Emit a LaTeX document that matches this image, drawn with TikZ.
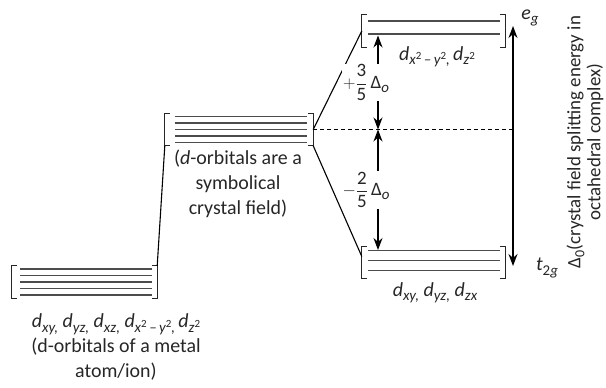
\documentclass[tikz,border=0pt]{standalone}
\usepackage{amsmath}
\usepackage{fontspec}
\setmainfont{Carlito}
\usetikzlibrary{positioning,arrows.meta}
\tikzset{
  lvl/.style={inner sep=0pt, minimum height=32bp},
  brk/.style={line width=0.9bp, draw=black!85},
  orb/.style={line width=1.5bp, draw=black!70},
  conn/.style={line width=1.1bp},
  dim/.style={line width=1.1bp, {Stealth[length=12bp,width=9bp]}-{Stealth[length=12bp,width=9bp]}},
  lab/.style={font=\fontsize{20}{25}\selectfont, align=center, inner sep=0pt, text=black!85},
  fr/.style={fill=white, inner sep=1pt, font=\fontsize{19}{20}\selectfont, text=black!85},
}
\newcommand{\dsub}[1]{\textit{d}\raisebox{-4.5bp}{\fontsize{15}{15}\selectfont\itshape #1}}
\newcommand{\sq}{\raisebox{5bp}{\fontsize{11}{11}\selectfont\upshape 2}}

\begin{document}
\begin{tikzpicture}[x=1bp,y=-1bp]
  \useasboundingbox (0,0) rectangle (606,387);
  % levels
  \node[lvl, minimum width=145bp] (atom) at (84.5,282) {};
  \node[lvl, minimum width=148bp] (field) at (239,129.5) {};
  \node[lvl, minimum width=143bp] (eg) at (433.5,31) {};
  \node[lvl, minimum width=143bp] (t2g) at (433.5,262.5) {};
  \foreach \n in {atom,field,eg,t2g}{
    \draw[brk] ([xshift=5bp]\n.north west) -- (\n.north west) -- (\n.south west) -- ([xshift=5bp]\n.south west);
    \draw[brk] ([xshift=-5bp]\n.north east) -- (\n.north east) -- (\n.south east) -- ([xshift=-5bp]\n.south east);
  }
  \foreach \y in {3,9.5,16,22.5,29}{
    \draw[orb] ([xshift=8bp,yshift=-\y bp]atom.north west) -- ([xshift=-5bp,yshift=-\y bp]atom.north east);
    \draw[orb] ([xshift=10bp,yshift=-\y bp]field.north west) -- ([xshift=-6bp,yshift=-\y bp]field.north east);
  }
  \foreach \y in {6,19}
    \draw[orb] ([xshift=6bp,yshift=-\y bp]eg.north west) -- ([xshift=-5bp,yshift=-\y bp]eg.north east);
  \foreach \y in {4,14,24}
    \draw[orb] ([xshift=6bp,yshift=-\y bp]t2g.north west) -- ([xshift=-5bp,yshift=-\y bp]t2g.north east);
  % connectors
  \draw[conn] (atom.north east) -- (field.south west);
  \draw[conn] (field.east) -- (eg.west);
  \draw[conn] (field.south east) -- ([yshift=6bp]t2g.west);
  \coordinate (bar) at (378,129.5);
  \coordinate (egb) at (378,35.5);
  \coordinate (tgt) at (378,250);
  \coordinate (bigT) at (513,26);
  \coordinate (bigB) at (513,266);
  \draw[dashed, dash pattern=on 4bp off 3bp, line width=0.8bp] (field.east) -- (bar) -- (bigT |- bar);
  \draw[dim] (bar) -- node[fr, xshift=-12bp]{$+\dfrac{\text{3}}{\text{5}}$\,Δ\raisebox{-4bp}{\fontsize{15}{15}\selectfont\itshape o}} (egb);
  \draw[dim] (bar) -- node[fr, xshift=-12bp]{$-\dfrac{\text{2}}{\text{5}}$\,Δ\raisebox{-4bp}{\fontsize{15}{15}\selectfont\itshape o}} (tgt);
  \draw[dim] (bigT) -- (bigB);
  % labels
  \node[lab] (eglab) at (530,18) {\textit{e}\raisebox{-4.5bp}{\fontsize{15}{15}\selectfont\itshape g}};
  \node[lab] (tglab) at (547,268) {\textit{t}\raisebox{-4.5bp}{\fontsize{15}{15}\selectfont 2\itshape g}};
  \node[lab] (egorb) at (437,57) {\dsub{x\sq\,–\,y\sq,}\,\dsub{z\sq}};
  \node[lab] (tgorb) at (435,293) {\dsub{xy,} \dsub{yz,} \dsub{zx}};
  \node[lab] (atomlab) at (116,347) {\dsub{xy,} \dsub{yz,} \dsub{xz,} \dsub{x\sq\,–\,y\sq,}\,\dsub{z\sq}\\(d-orbitals of a metal\\atom/ion)};
  \node[lab] (fieldlab) at (238,184) {(\textit{d}-orbitals are a\\symbolical\\crystal field)};
  \node[lab, rotate=90, font=\fontsize{19}{20}\selectfont] (dlab) at (585,142) {Δ\raisebox{-4bp}{\fontsize{14}{14}\selectfont 0}(crystal field splitting energy in\\octahedral complex)};
\end{tikzpicture}
\end{document}
